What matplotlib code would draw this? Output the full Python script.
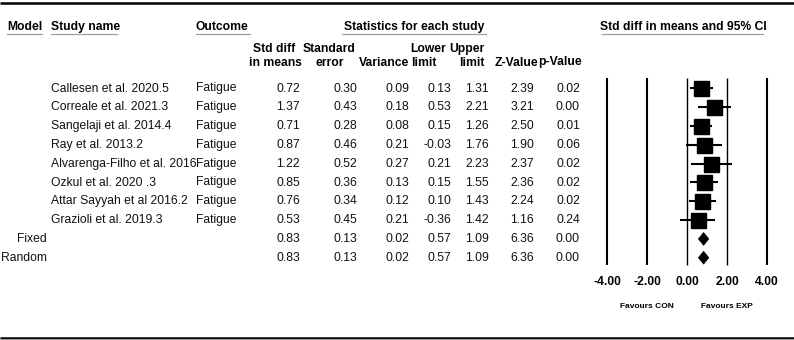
import matplotlib
matplotlib.use("Agg")
import matplotlib.pyplot as plt
from matplotlib.patches import Polygon

plt.rcParams['font.family'] = ['Liberation Sans', 'DejaVu Sans']

# ---------------- data ----------------
studies = ["Callesen et al. 2020.5", "Correale et al. 2021.3", "Sangelaji et al. 2014.4",
           "Ray et al. 2013.2", "Alvarenga-Filho et al. 2016", "Ozkul et al. 2020 .3",
           "Attar Sayyah et al 2016.2", "Grazioli et al. 2019.3"]
outcome = "Fatigue"
smd = [0.72, 1.37, 0.71, 0.87, 1.22, 0.85, 0.76, 0.53]
se = [0.30, 0.43, 0.28, 0.46, 0.52, 0.36, 0.34, 0.45]
var = [0.09, 0.18, 0.08, 0.21, 0.27, 0.13, 0.12, 0.21]
lower = [0.13, 0.53, 0.15, -0.03, 0.21, 0.15, 0.10, -0.36]
upper = [1.31, 2.21, 1.26, 1.76, 2.23, 1.55, 1.43, 1.42]
zval = [2.39, 3.21, 2.50, 1.90, 2.37, 2.36, 2.24, 1.16]
pval = [0.02, 0.00, 0.01, 0.06, 0.02, 0.02, 0.02, 0.24]

models = ["Fixed", "Random"]
m_smd = [0.83, 0.83]
m_se = [0.13, 0.13]
m_var = [0.02, 0.02]
m_lower = [0.57, 0.57]
m_upper = [1.09, 1.09]
m_z = [6.36, 6.36]
m_p = [0.00, 0.00]

ticks = [-4, -2, 0, 2, 4]
favours = ["Favours CON", "Favours EXP"]

# ---------------- layout ----------------
W, H = 794, 340
fig = plt.figure(figsize=(W / 100, H / 100), dpi=100)
ax = fig.add_axes([0, 0, 1, 1])
ax.set_xlim(0, W)
ax.set_ylim(H, 0)
ax.axis('off')

FS = 8.7
TC = '#111111'
VA = 'center_baseline'
OFF = -1.5  # pixel shift so baseline-centred text sits on the row centre
row0, dy = 88.5, 18.8

# frame lines
ax.plot([0, W], [2.5, 2.5], color='black', lw=1.8, solid_capstyle='butt')
ax.plot([0, W], [337.8, 337.8], color='black', lw=1.8, solid_capstyle='butt')
ax.plot([0, W], [339.3, 339.3], color='#9a9a9a', lw=0.8, solid_capstyle='butt')

# main headers
hy = 27 + OFF
heads = [("Model", 7, 42), ("Study name", 51, 117), ("Outcome", 196, 250)]
for t, x0, x1 in heads:
    ax.text(x0, hy, t, fontsize=FS, fontweight='bold', ha='left', va=VA, color='black')
    ax.plot([x0, x1], [33.5, 33.5], color='#a0a0a0', lw=0.9)
ax.text(414, hy, "Statistics for each study", fontsize=FS, fontweight='bold',
        ha='center', va=VA, color='black')
ax.plot([342, 486], [33.5, 33.5], color='#a0a0a0', lw=0.9)
ax.text(683, hy, "Std diff in means and 95% CI", fontsize=FS, fontweight='bold',
        ha='center', va=VA, color='black')
ax.plot([602, 763], [33.5, 33.5], color='#a0a0a0', lw=0.9)

# column sub-headers: (line1, line2, x1, x2)
sub = [("Std diff", "in means", 274, 275), ("Standard", "error", 329, 330),
       ("", "Variance", 384, 384), ("Lower", "limit", 428, 424),
       ("Upper", "limit", 467, 472), ("", "Z-Value", 516, 516), ("", "p-Value", 560, 560)]
for l1, l2, x1, x2 in sub:
    if l1:
        ax.text(x1, 49 + OFF, l1, fontsize=FS, fontweight='bold', ha='center', va=VA, color='black')
    ax.text(x2, 62.5 + OFF, l2, fontsize=FS, fontweight='bold', ha='center', va=VA, color='black')

col_right = [300, 357, 409, 451, 489, 534, 580]

def fmt(v):
    return f"{v:.2f}"

for i, name in enumerate(studies):
    y = row0 + dy * i + OFF
    ax.text(51, y, name, fontsize=FS, ha='left', va=VA, color=TC)
    ax.text(196, y, outcome, fontsize=FS, ha='left', va=VA, color=TC)
    vals = [smd[i], se[i], var[i], lower[i], upper[i], zval[i], pval[i]]
    for v, xr in zip(vals, col_right):
        ax.text(xr, y, fmt(v), fontsize=FS, ha='right', va=VA, color=TC)

n = len(studies)
for j, m in enumerate(models):
    y = row0 + dy * (n + j) + OFF
    ax.text(47, y, m, fontsize=FS, ha='right', va=VA, color=TC)
    vals = [m_smd[j], m_se[j], m_var[j], m_lower[j], m_upper[j], m_z[j], m_p[j]]
    for v, xr in zip(vals, col_right):
        ax.text(xr, y, fmt(v), fontsize=FS, ha='right', va=VA, color=TC)

# ---------------- forest axes ----------------
top_px, bot_px = row0 - dy, row0 + dy * 10
fa = fig.add_axes([587 / W, 1 - bot_px / H, 200 / W, (bot_px - top_px) / H])
fa.set_xlim(-5, 5)
fa.set_ylim(10, -1)
fa.axis('off')

y_top = (78 - row0) / dy
y_bot = (265 - row0) / dy
for t in ticks:
    lw = 1.0 if t in (0, 2) else 1.5
    fa.plot([t, t], [y_top, y_bot], color='black', lw=lw, solid_capstyle='butt')
    fa.text(t, (282 + OFF - row0) / dy, f"{t:.2f}", fontsize=FS, fontweight='bold',
            ha='center', va=VA, color='black', clip_on=False)

fa.text(-2, (307 - 1 - row0) / dy, favours[0], fontsize=6.0, fontweight='bold',
        ha='center', va=VA, color='black', clip_on=False)
fa.text(2, (307 - 1 - row0) / dy, favours[1], fontsize=6.0, fontweight='bold',
        ha='center', va=VA, color='black', clip_on=False)

for i in range(n):
    fa.plot([lower[i], upper[i]], [i, i], color='black', lw=1.5, solid_capstyle='butt', zorder=2)
    fa.plot([smd[i]], [i], marker='s', markersize=10.8, color='black', zorder=3)

for j in range(len(models)):
    y = n + j
    h = 0.34
    d = Polygon([[m_lower[j], y], [m_smd[j], y - h], [m_upper[j], y], [m_smd[j], y + h]],
                closed=True, facecolor='black', edgecolor='black', lw=0.5, zorder=3)
    fa.add_patch(d)

fig.savefig("out.png", dpi=100)
